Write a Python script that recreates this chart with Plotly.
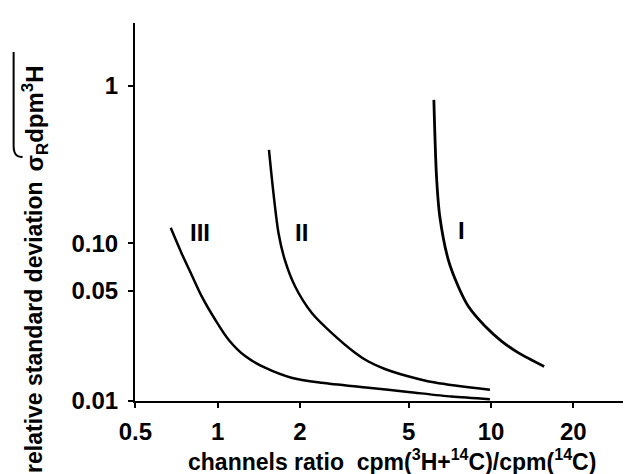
import plotly.graph_objects as go
import math

# Curve I
x_I = [6.18, 6.32, 6.50, 6.98, 7.59, 8.26, 9.50, 10.92, 12.57, 15.65]
y_I = [0.816, 0.264, 0.147, 0.0785, 0.0532, 0.0398, 0.0298, 0.0239, 0.0202, 0.0165]
# Curve II
x_II = [1.54, 1.60, 1.67, 1.76, 1.92, 2.21, 2.61, 3.18, 3.56, 4.09, 4.71, 6.24, 9.91]
y_II = [0.392, 0.207, 0.1155, 0.0785, 0.0532, 0.0361, 0.0270, 0.0202, 0.01774, 0.0159, 0.01468, 0.01303, 0.01172]
# Curve III
x_III = [0.673, 0.738, 0.803, 0.874, 0.978, 1.094, 1.26, 1.49, 1.86, 2.40, 3.56, 4.98, 7.17, 9.91]
y_III = [0.1256, 0.0863, 0.0629, 0.0460, 0.0328, 0.0245, 0.0192, 0.0162, 0.0140, 0.0130, 0.0121, 0.01137, 0.01062, 0.01023]

curve_names = ["I", "II", "III"]
label_x = [7.83, 2.02, 0.863]
label_y = [0.121, 0.118, 0.118]

x_tickvals = [0.5, 1, 2, 5, 10, 20]
x_ticktext = ["0.5", "1", "2", "5", "10", "20"]
y_tickvals = [0.01, 0.05, 0.1, 1]
y_ticktext = ["0.01", "0.05", "0.10", "1"]

FONT = "Liberation Sans, Arial, sans-serif"

fig = go.Figure()
for xs, ys, w in [(x_I, y_I, 2.8), (x_II, y_II, 2.5), (x_III, y_III, 2.5)]:
    fig.add_trace(go.Scatter(x=xs, y=ys, mode="lines",
                             line=dict(color="black", width=w, shape="spline", smoothing=0.8),
                             showlegend=False, hoverinfo="skip"))

for name, lx, ly in zip(curve_names, label_x, label_y):
    fig.add_annotation(x=math.log10(lx), y=math.log10(ly), text=name, showarrow=False,
                       font=dict(family=FONT, size=24, color="black", weight="bold"),
                       xanchor="center", yanchor="middle")

L, R, T, B = 126.5, 1, 15, 80.5
W, H = 631, 474
pw = W - L - R
ph = H - T - B

def px2paper(px, py):
    return (px - L) / pw, (H - B - py) / ph

# y-axis title (two parts)
a1x, a1y = px2paper(26, 172)
fig.add_annotation(x=a1x, y=a1y, xref="paper", yref="paper", textangle=-90,
                   text="relative standard deviation",
                   showarrow=False, xanchor="center", yanchor="top",
                   font=dict(family=FONT, size=23, color="black", weight="bold"))
a2x, a2y = px2paper(26, 166)
fig.add_annotation(x=a2x, y=a2y, xref="paper", yref="paper", textangle=-90,
                   text="σ<sub>R</sub>dpm<sup>3</sup>H",
                   showarrow=False, xanchor="center", yanchor="bottom",
                   font=dict(family=FONT, size=24, color="black", weight="bold"))
# overline bracket
p1 = px2paper(5, 44)
p2 = px2paper(5, 138)
p3 = px2paper(5, 150)
p4 = px2paper(14, 149)
fig.add_shape(type="path", xref="paper", yref="paper",
              path=f"M {p1[0]},{p1[1]} L {p2[0]},{p2[1]} Q {p3[0]},{p3[1]} {p4[0]},{p4[1]}",
              line=dict(color="black", width=2))

# x-axis title
tx, ty = px2paper(384, 453)
fig.add_annotation(x=tx, y=ty, xref="paper", yref="paper",
                   text="channels ratio  cpm(<sup>3</sup>H+<sup>14</sup>C)/cpm(<sup>14</sup>C)",
                   showarrow=False, xanchor="center", yanchor="middle",
                   font=dict(family=FONT, size=23, color="black", weight="bold"))

fig.update_xaxes(type="log", range=[-0.3027, 1.538], tickvals=x_tickvals, ticktext=x_ticktext,
                 showline=True, linecolor="black", linewidth=2, ticks="outside", ticklen=5,
                 tickwidth=1.5, tickcolor="black", showgrid=False, zeroline=False,
                 ticklabelstandoff=3,
                 tickfont=dict(family=FONT, size=24, color="black", weight="bold"))
fig.update_yaxes(type="log", range=[-2.002, 0.40], tickvals=y_tickvals, ticktext=y_ticktext,
                 showline=True, linecolor="black", linewidth=2, ticks="outside", ticklen=5,
                 tickwidth=1.5, tickcolor="black", showgrid=False, zeroline=False,
                 ticklabelstandoff=5,
                 tickfont=dict(family=FONT, size=24, color="black", weight="bold"))

fig.update_layout(width=W, height=H, margin=dict(l=L, r=R, t=T, b=B),
                  paper_bgcolor="white", plot_bgcolor="white")

fig.write_html("out.html")
